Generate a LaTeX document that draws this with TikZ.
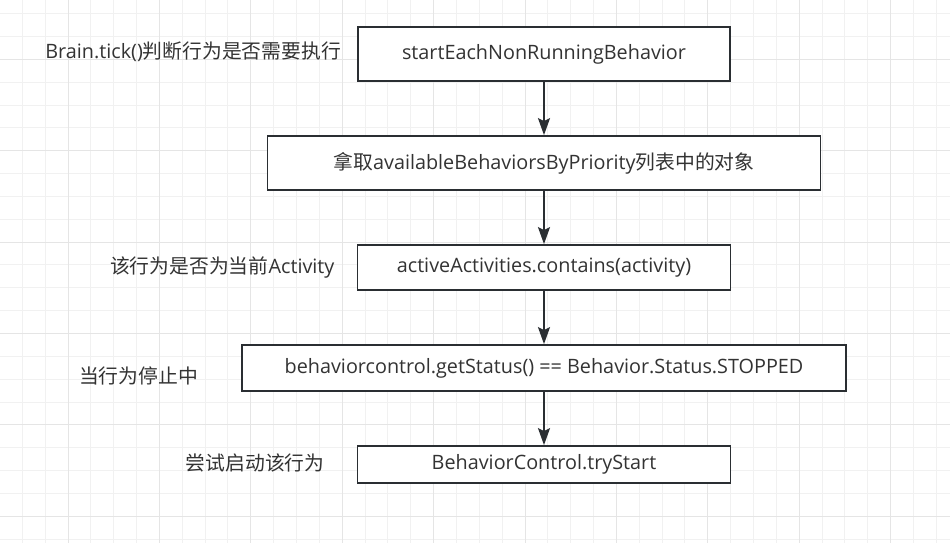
\documentclass[tikz,border=0pt]{standalone}
\usepackage{fontspec}
\setmainfont{Open Sans}
\newfontfamily\cjk{Noto Sans CJK SC}
\usetikzlibrary{arrows.meta, positioning}
\definecolor{GridMinor}{RGB}{241, 241, 241}
\definecolor{GridMajor}{RGB}{229, 229, 229}
\definecolor{BoxLine}{RGB}{42, 46, 50}
\definecolor{TextGray}{RGB}{51, 51, 51}

\begin{document}
\begin{tikzpicture}[
    x=1pt, y=-1pt,
    node distance=53.2pt,
    every node/.style={font=\fontsize{19.8}{23}\selectfont, text=TextGray},
    stap/.style={draw=BoxLine, line width=1.8pt, fill=white,
                 minimum height=54pt, inner sep=0pt},
    uitleg/.style={inner sep=0pt},
    pijl/.style={-{Stealth[length=17pt, width=12pt, inset=3pt]}, BoxLine, line width=1.8pt}
]
% raster
\fill[white] (0,0) rectangle (950,543);
\useasboundingbox (0,0) rectangle (950,543);
\foreach \k in {0,...,41} \draw[GridMinor, line width=1pt] ({-0.55+22.85*\k},0) -- ({-0.55+22.85*\k},543);
\foreach \k in {0,...,23} \draw[GridMinor, line width=1pt] (0,{13.6+22.85*\k}) -- (950,{13.6+22.85*\k});
\foreach \k in {0,...,9} \draw[GridMajor, line width=1pt] ({68+91.4*\k},0) -- ({68+91.4*\k},543);
\foreach \k in {0,...,5} \draw[GridMajor, line width=1pt] (0,{59.3+91.4*\k}) -- (950,{59.3+91.4*\k});

\node[stap, minimum width=372pt] (s1) at (544,54) {startEachNonRunningBehavior};
\node[stap, minimum width=553pt, below=of s1] (s2) {{\cjk 拿取}availableBehaviorsByPriority{\cjk 列表中的对象}};
\node[stap, minimum width=373pt, minimum height=45pt, below=of s2] (s3) {activeActivities.contains(activity)};
\node[stap, minimum width=604pt, minimum height=46pt, below=of s3] (s4) {behaviorcontrol.getStatus() == Behavior.Status.STOPPED};
\node[stap, minimum width=373pt, minimum height=37pt, below=of s4] (s5) {BehaviorControl.tryStart};

\node[uitleg, left=16pt of s1, yshift=2pt] (u1) {Brain.tick(){\cjk 判断行为是否需要执行}};
\node[uitleg, left=22pt of s3] (u3) {{\cjk 该行为是否为当前}Activity};
\node[uitleg, left=43pt of s4, yshift=-8pt] (u4) {\cjk 当行为停止中};
\node[uitleg, left=32pt of s5, yshift=2pt] (u5) {\cjk 尝试启动该行为};

\draw[pijl] (s1) -- (s2);
\draw[pijl] (s2) -- (s3);
\draw[pijl] (s3) -- (s4);
\draw[pijl] (s4) -- (s5);
\end{tikzpicture}
\end{document}
